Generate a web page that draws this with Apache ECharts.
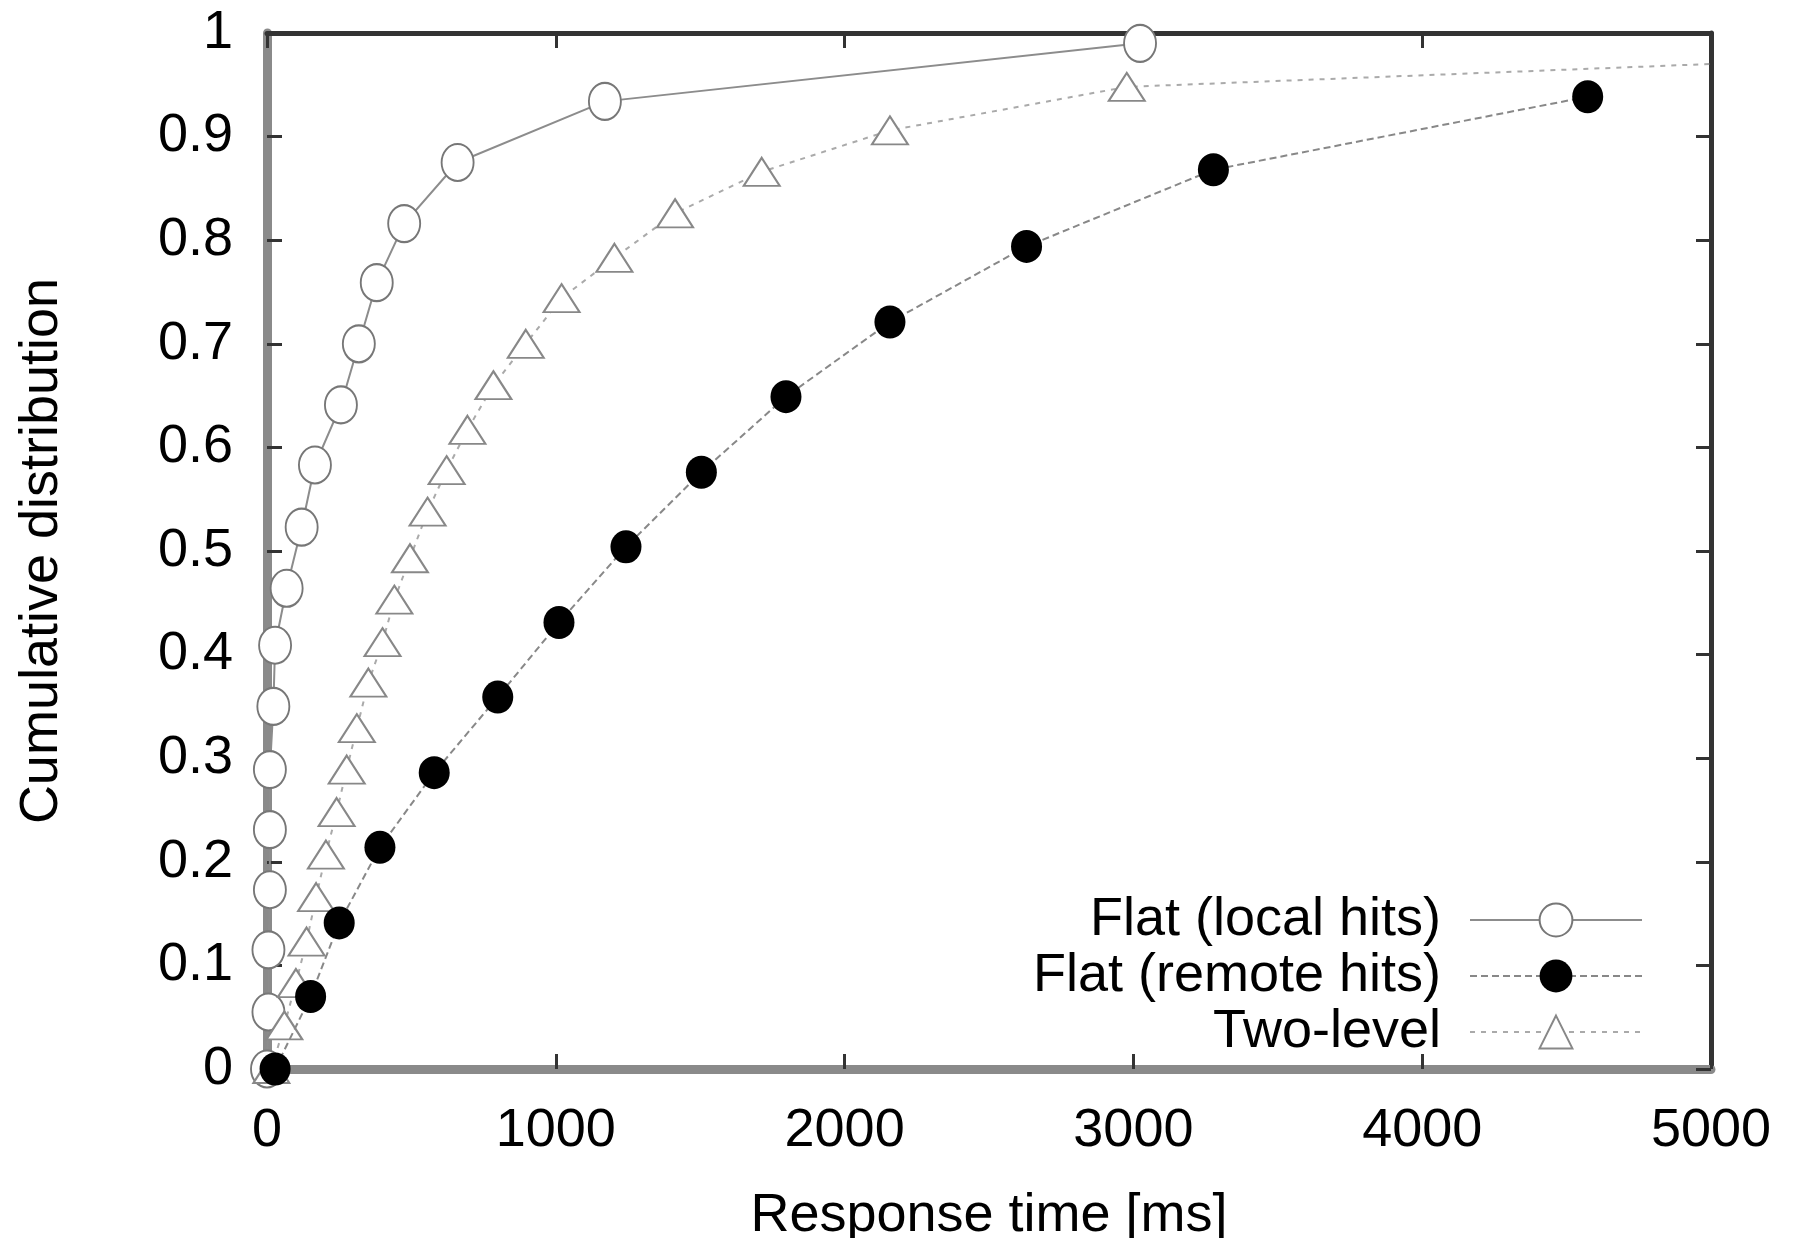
<!DOCTYPE html>
<html>
<head>
<meta charset="utf-8">
<script src="https://cdn.jsdelivr.net/npm/echarts@6/dist/echarts.min.js"></script>
<style>
html,body{margin:0;padding:0;background:#fff;}
#chart{width:1797px;height:1238px;}
</style>
</head>
<body>
<div id="chart"></div>
<script>
// ---- data ----
const seriesNames = ['Flat (local hits)', 'Flat (remote hits)', 'Two-level'];

const localX = [0, 5, 5, 10, 10, 10, 22, 28, 68, 120, 166, 256, 318, 380, 475, 660, 1170, 3023];
const localY = [0, 0.055, 0.115, 0.173, 0.231, 0.289, 0.350, 0.409, 0.464, 0.523, 0.583, 0.641, 0.700, 0.759, 0.816, 0.875, 0.934, 0.990];

const remoteX = [28, 151, 250, 391, 579, 799, 1011, 1243, 1504, 1797, 2157, 2630, 3277, 4573];
const remoteY = [0, 0.070, 0.141, 0.214, 0.286, 0.359, 0.431, 0.504, 0.576, 0.649, 0.721, 0.794, 0.868, 0.9385];

const twoX = [15, 60, 100, 137, 170, 204, 241, 276, 311, 351, 400, 441, 495, 556, 622, 694, 784, 896, 1020, 1203, 1413, 1713, 2157, 2977, 6000];
const twoY = [0, 0.042, 0.083, 0.123, 0.166, 0.207, 0.248, 0.289, 0.329, 0.373, 0.412, 0.453, 0.493, 0.538, 0.578, 0.617, 0.660, 0.700, 0.744, 0.783, 0.826, 0.866, 0.906, 0.948, 0.981];

const xTicks = {min: 0, max: 5000, interval: 1000};
const yTicks = {min: 0, max: 1, interval: 0.1};
const xAxisTitle = 'Response time [ms]';
const yAxisTitle = 'Cumulative distribution';

function pairs(xs, ys) { return xs.map((x, i) => [x, ys[i]]); }

const FONT = '"Liberation Sans", Arial, Helvetica, sans-serif';
const FS = 54;

const chart = echarts.init(document.getElementById('chart'), null, {renderer: 'canvas'});

const tickStyle = {show: true, inside: true, length: 15, lineStyle: {color: '#333', width: 3}};

chart.setOption({
  animation: false,
  backgroundColor: '#fff',
  grid: {left: 267, right: 86, top: 33, bottom: 169, containLabel: false, outerBoundsMode: 'none'},
  textStyle: {fontFamily: FONT},
  legend: {
    orient: 'vertical',
    align: 'right',
    right: 149,
    top: 888,
    itemWidth: 172,
    itemHeight: 41,
    itemGap: 2,
    selectedMode: false,
    textStyle: {fontFamily: FONT, fontSize: FS, color: '#000', lineHeight: 54, padding: [0, 24, 0, 0]},
    data: seriesNames
  },
  xAxis: [
    {
      type: 'value', position: 'bottom',
      min: xTicks.min, max: xTicks.max, interval: xTicks.interval,
      name: xAxisTitle, nameLocation: 'middle', nameGap: 120,
      nameTextStyle: {fontFamily: FONT, fontSize: FS, color: '#000'},
      axisLine: {show: true, onZero: false, lineStyle: {color: '#8a8a8a', width: 9}},
      axisTick: tickStyle,
      axisLabel: {fontFamily: FONT, fontSize: FS, color: '#000', margin: 35,
        formatter: v => String(v)},
      splitLine: {show: false}
    },
    {
      type: 'value', position: 'top',
      min: xTicks.min, max: xTicks.max, interval: xTicks.interval,
      axisLine: {show: true, onZero: false, lineStyle: {color: '#333', width: 5}},
      axisTick: tickStyle,
      axisLabel: {show: false},
      splitLine: {show: false}
    }
  ],
  yAxis: [
    {
      type: 'value', position: 'left',
      min: yTicks.min, max: yTicks.max, interval: yTicks.interval,
      name: yAxisTitle, nameLocation: 'middle', nameGap: 198, nameRotate: 90,
      nameTextStyle: {fontFamily: FONT, fontSize: FS, color: '#000'},
      axisLine: {show: true, onZero: false, lineStyle: {color: '#8a8a8a', width: 9}},
      axisTick: tickStyle,
      axisLabel: {fontFamily: FONT, fontSize: FS, color: '#000', margin: 34,
        formatter: v => String(Math.round(v * 10) / 10)},
      splitLine: {show: false}
    },
    {
      type: 'value', position: 'right',
      min: yTicks.min, max: yTicks.max, interval: yTicks.interval,
      axisLine: {show: true, onZero: false, lineStyle: {color: '#333', width: 5}},
      axisTick: tickStyle,
      axisLabel: {show: false},
      splitLine: {show: false}
    }
  ],
  series: [
    {
      name: seriesNames[0], type: 'line', xAxisIndex: 0, yAxisIndex: 0,
      data: pairs(localX, localY),
      symbol: 'emptyCircle', symbolSize: [32, 37], showAllSymbol: true,
      lineStyle: {color: '#8c8c8c', width: 2, type: 'solid'},
      itemStyle: {color: '#777', borderColor: '#777', borderWidth: 2},
      z: 2
    },
    {
      name: seriesNames[1], type: 'line', xAxisIndex: 0, yAxisIndex: 0,
      data: pairs(remoteX, remoteY),
      symbol: 'circle', symbolSize: [31, 33], showAllSymbol: true,
      lineStyle: {color: '#888', width: 2, type: [7, 4]},
      itemStyle: {color: '#000'},
      z: 4
    },
    {
      name: seriesNames[2], type: 'line', xAxisIndex: 0, yAxisIndex: 0,
      data: pairs(twoX, twoY),
      symbol: 'emptyTriangle', symbolSize: [36, 28], showAllSymbol: true,
      lineStyle: {color: '#aaa', width: 2, type: [5, 6]},
      itemStyle: {color: '#888', borderColor: '#888', borderWidth: 2},
      z: 3
    }
  ]
});
</script>
</body>
</html>
